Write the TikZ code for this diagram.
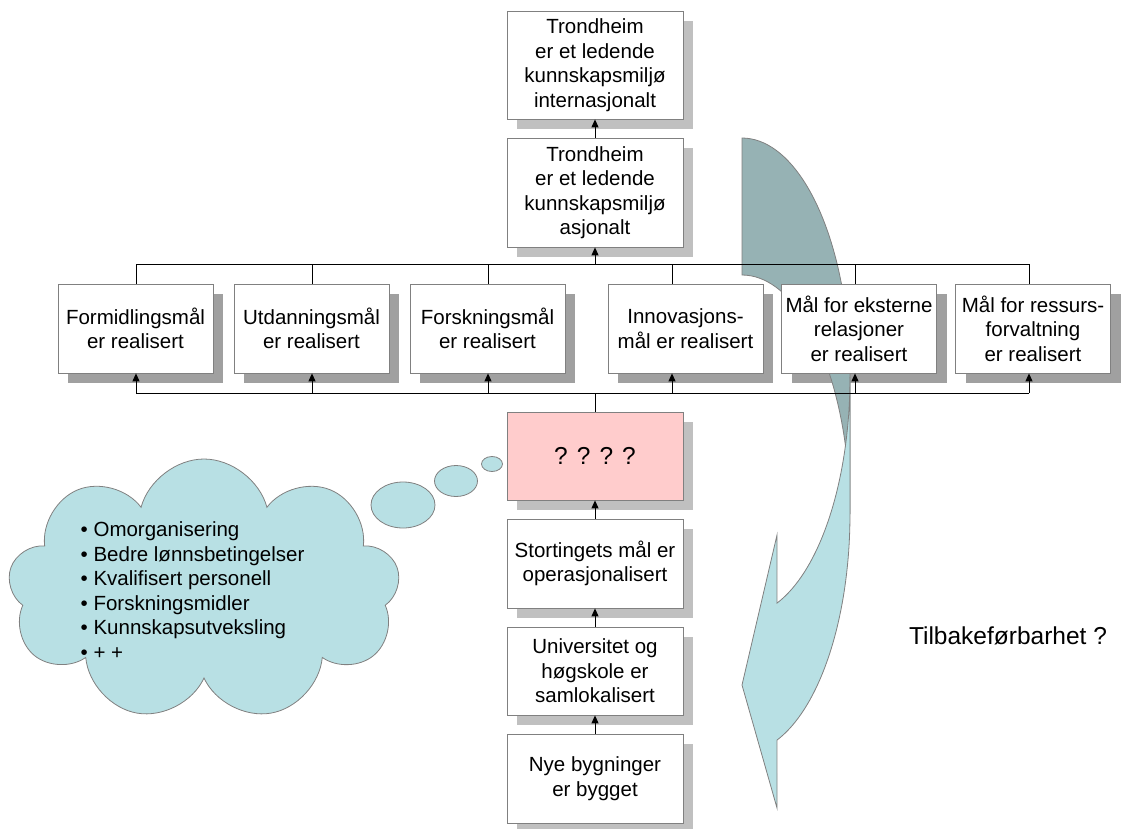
\documentclass[tikz,border=0pt]{standalone}
\usepackage{fontspec}
\setmainfont{Liberation Sans}
\usetikzlibrary{arrows.meta,shapes.geometric,shapes.symbols}
\definecolor{boxline}{HTML}{808080}
\definecolor{rowshade}{HTML}{A0A0A0}
\definecolor{colshade}{HTML}{C0C0C0}
\definecolor{qpink}{HTML}{FFCCCC}
\definecolor{cloudfill}{HTML}{B8E0E4}
\definecolor{backface}{HTML}{96B2B4}
\newcommand{\boxfont}{\fontsize{20.5}{24.5}\selectfont}
\newcommand{\bigfont}{\fontsize{24.5}{28}\selectfont}
\newcommand{\rowgoals}{fa/135.5/{Formidlingsmål\\er realisert}, fb/311.5/{Utdanningsmål\\er realisert},
  fc/487.5/{Forskningsmål\\er realisert}, fd/685.5/{Innovasjons-\\mål er realisert},
  fe/859/{Mål for eksterne\\relasjoner\\er realisert}, ff/1033/{Mål for ressurs-\\forvaltning\\er realisert}}

\begin{document}
\begin{tikzpicture}[x=1pt,y=-1pt,
  goal/.style={draw=boxline,fill=white,line width=0.8pt,align=center,font=\boxfont,inner sep=1pt},
  colgoal/.style={goal,minimum width=176pt,minimum height=#1},
  rowgoal/.style={goal,minimum width=155pt,minimum height=89pt},
  shade/.style={draw=none,fill=#1},
  con/.style={line width=0.9pt},
  up/.style={con,-{Triangle[length=8pt,width=7pt]}},
  puff/.style={draw=boxline,fill=cloudfill,line width=0.8pt}]
  \useasboundingbox (0,0) rectangle (1130,828);
  % shadows
  \node[colgoal=108pt,shade=colshade] (t1s) at (605,75) {};
  \node[colgoal=109pt,shade=colshade] (t2s) at (605,202.5) {};
  \foreach \n/\x/\t in \rowgoals {\node[rowgoal,shade=rowshade] (\n s) at (\x+10,338.5) {};}
  \node[colgoal=88pt,shade=colshade] (qs) at (605,466) {};
  \node[colgoal=89pt,shade=colshade] (sts) at (605,573.5) {};
  \node[colgoal=88pt,shade=colshade] (uns) at (605,681) {};
  \node[colgoal=89pt,shade=colshade] (nys) at (605,788.5) {};
  % curved arrow, back and front face
  \filldraw[fill=backface,draw=boxline,line width=0.8pt] plot[domain=90:0,samples=40] ({742+108*cos(\x)},{377-239*sin(\x)})
    -- plot[domain=0:90,samples=40] ({742+108*cos(\x)},{514-239*sin(\x)}) -- cycle;
  \filldraw[fill=cloudfill,draw=boxline,line width=0.8pt] plot[domain=0:-71.1,samples=40] ({742+108*cos(\x)},{377-239*sin(\x)})
    -- (777,535) -- (742,685) -- (777,808) -- plot[domain=-71.1:0,samples=40] ({742+108*cos(\x)},{514-239*sin(\x)}) -- cycle;
  % boxes
  \node[colgoal=108pt] (t1) at (595,65) {Trondheim\\er et ledende\\kunnskapsmiljø\\internasjonalt};
  \node[colgoal=109pt] (t2) at (595,192.5) {Trondheim\\er et ledende\\kunnskapsmiljø\\asjonalt};
  \foreach \n/\x/\t in \rowgoals {\node[rowgoal] (\n) at (\x,328.5) {\t};}
  \node[colgoal=88pt,fill=qpink,font=\bigfont] (q) at (595,456) {? ? ? ?};
  \node[colgoal=89pt] (st) at (595,563.5) {Stortingets mål er\\operasjonalisert};
  \node[colgoal=88pt] (un) at (595,671) {Universitet og\\høgskole er\\samlokalisert};
  \node[colgoal=89pt] (ny) at (595,778.5) {Nye bygninger\\er bygget};
  % connectors
  \coordinate (busT) at (595,264); \coordinate (busB) at (595,393);
  \draw[con] ([xshift=0.5pt]fa.north |- busT) -- ([xshift=-4pt]ff.north |- busT);
  \draw[con] ([xshift=0.5pt]fa.south |- busB) -- ([xshift=-4pt]ff.south |- busB);
  \foreach \n/\d in {fa/0.5,fb/0.5,fc/0.5,fd/-13.5,fe/-4,ff/-4}{
    \draw[con] ([xshift=\d pt]\n.north) -- ([xshift=\d pt]\n.north |- busT);
    \draw[up] ([xshift=\d pt]\n.south |- busB) -- ([xshift=\d pt]\n.south);}
  \draw[up] (busT) -- (t2.south); \draw[up] (t2.north) -- (t1.south);
  \draw[con] (q.north) -- (busB);
  \draw[up] (st.north) -- (q.south); \draw[up] (un.north) -- (st.south); \draw[up] (ny.north) -- (un.south);
  % thought cloud
  \node[cloud,cloud puffs=9,aspect=1.5,puff,minimum width=392pt,minimum height=262pt,inner sep=0pt] (idea) at (204,590) {};
  \node[ellipse,puff,minimum width=64pt,minimum height=46pt,inner sep=0pt] (b1) at (403,505) {};
  \node[ellipse,puff,minimum width=43pt,minimum height=31pt,inner sep=0pt] (b2) at (456,481) {};
  \node[ellipse,puff,minimum width=21pt,minimum height=15pt,inner sep=0pt] (b3) at (492,464) {};
  \node[anchor=west,align=left,font=\fontsize{20.5}{24.6}\selectfont,inner sep=0pt] (ideas) at (80.5,590.5)
    {• Omorganisering\\• Bedre lønnsbetingelser\\• Kvalifisert personell\\• Forskningsmidler\\• Kunnskapsutveksling\\• + +};
  \node[font=\bigfont] (tb) at (1008,636) {Tilbakeførbarhet ?};
\end{tikzpicture}
\end{document}
